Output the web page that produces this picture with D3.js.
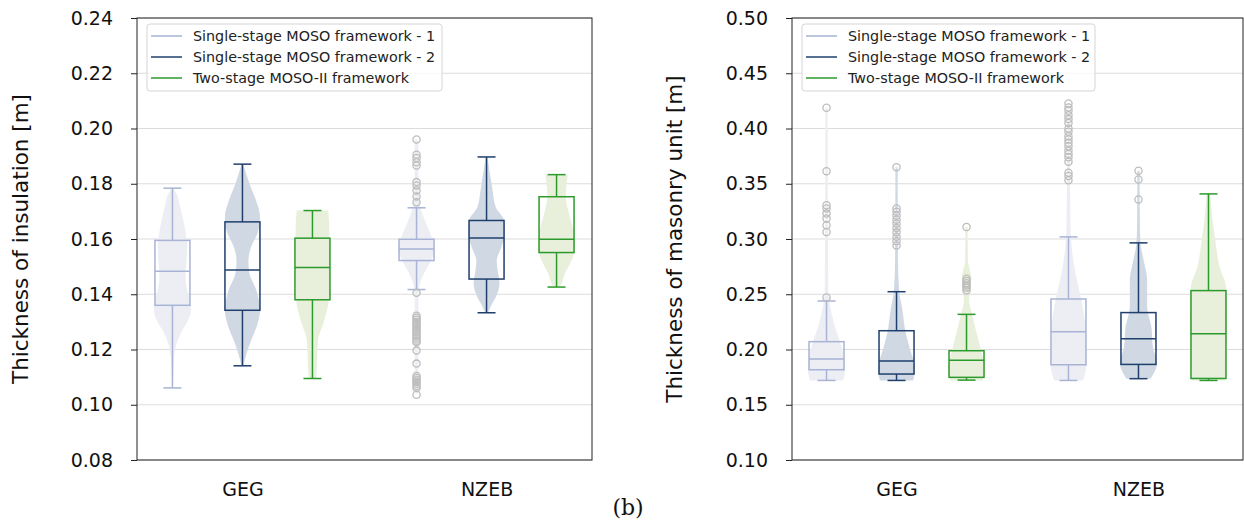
<!DOCTYPE html>
<html>
<head>
<meta charset="utf-8">
<script src="https://cdn.jsdelivr.net/npm/d3@7"></script>
<style>
  body { margin: 0; background: #fff; }
  svg text { font-family: "DejaVu Sans", sans-serif; }
</style>
</head>
<body>
<div id="chart"></div>
<script>
// categories and series
var categories = ["GEG", "NZEB"];
var seriesNames = ["Single-stage MOSO framework - 1",
                   "Single-stage MOSO framework - 2",
                   "Two-stage MOSO-II framework"];
var insulTicks = [0.08, 0.10, 0.12, 0.14, 0.16, 0.18, 0.20, 0.22, 0.24];
var masonTicks = [0.10, 0.15, 0.20, 0.25, 0.30, 0.35, 0.40, 0.45, 0.50];

// box stats: [whisker low, q1, median, q3, whisker high] for GEG, NZEB
var insulBox1 = [[0.1061, 0.1360, 0.1483, 0.1595, 0.1784], [0.1417, 0.1522, 0.1564, 0.1599, 0.1713]];
var insulBox2 = [[0.1141, 0.1342, 0.1488, 0.1662, 0.1871], [0.1333, 0.1455, 0.1604, 0.1667, 0.1897]];
var insulBox3 = [[0.1095, 0.1380, 0.1497, 0.1603, 0.1703], [0.1426, 0.1551, 0.1599, 0.1753, 0.1833]];
var masonBox1 = [[0.1720, 0.1817, 0.1913, 0.2071, 0.2439], [0.1720, 0.1862, 0.2161, 0.2457, 0.3019]];
var masonBox2 = [[0.1720, 0.1778, 0.1896, 0.2170, 0.2523], [0.1736, 0.1865, 0.2098, 0.2334, 0.2965]];
var masonBox3 = [[0.1723, 0.1748, 0.1902, 0.1989, 0.2318], [0.1720, 0.1738, 0.2143, 0.2533, 0.3408]];

// outliers
var insulOut1 = [[], [0.1960, 0.1905, 0.1893, 0.1878, 0.1866, 0.1806, 0.1794, 0.1776, 0.1754, 0.1733,
                      0.1405, 0.1322, 0.1315, 0.1308, 0.1300, 0.1292, 0.1285, 0.1277, 0.1270, 0.1262,
                      0.1255, 0.1247, 0.1240, 0.1232, 0.1226, 0.1196, 0.1149, 0.1104, 0.1097, 0.1090,
                      0.1083, 0.1076, 0.1068, 0.1061, 0.1036]];
var insulOut2 = [[], []];
var insulOut3 = [[], []];
var masonOut1 = [[0.4188, 0.3614, 0.3306, 0.3276, 0.3230, 0.3185, 0.3125, 0.3064, 0.2470],
                 [0.4227, 0.4190, 0.4160, 0.4120, 0.4085, 0.4050, 0.4000, 0.3970, 0.3930, 0.3900,
                  0.3870, 0.3840, 0.3800, 0.3770, 0.3740, 0.3700, 0.3600, 0.3570, 0.3532]];
var masonOut2 = [[0.3650, 0.3276, 0.3246, 0.3210, 0.3175, 0.3140, 0.3100, 0.3060, 0.3020, 0.2980, 0.2942],
                 [0.3617, 0.3539, 0.3357]];
var masonOut3 = [[0.3109, 0.2641, 0.2620, 0.2600, 0.2580, 0.2560, 0.2535], []];

// violin profiles: [value, relative width] for GEG, NZEB
var insulViolin1 = [
  [[0.1784,0.05],[0.176,0.25],[0.172,0.40],[0.168,0.55],[0.162,0.72],[0.158,0.80],[0.152,0.76],[0.146,0.70],
   [0.142,0.78],[0.138,0.95],[0.134,1.0],[0.130,0.80],[0.126,0.45],[0.122,0.22],[0.118,0.10],[0.112,0.05],[0.1061,0.02]],
  [[0.196,0.10],[0.185,0.10],[0.176,0.12],[0.171,0.22],[0.1643,0.60],[0.160,0.86],[0.1564,1.0],[0.152,0.77],
   [0.1475,0.40],[0.1425,0.14],[0.138,0.10],[0.120,0.10],[0.110,0.09],[0.104,0.07]]
];
var insulViolin2 = [
  [[0.1871,0.05],[0.180,0.38],[0.174,0.73],[0.168,0.95],[0.163,0.86],[0.157,0.46],[0.152,0.32],[0.1475,0.38],
   [0.1413,0.76],[0.134,0.95],[0.129,0.80],[0.123,0.45],[0.118,0.20],[0.1141,0.05]],
  [[0.1897,0.05],[0.1788,0.30],[0.1715,0.50],[0.1667,0.95],[0.162,1.0],[0.157,0.80],[0.152,0.55],[0.1486,0.60],
   [0.144,0.70],[0.139,0.50],[0.1355,0.22],[0.1333,0.08]]
];
var insulViolin3 = [
  [[0.1703,0.85],[0.166,0.90],[0.160,0.92],[0.1498,0.93],[0.1377,0.88],[0.1304,0.63],[0.1232,0.30],[0.116,0.25],[0.1095,0.20]],
  [[0.1833,0.60],[0.1752,0.50],[0.169,0.68],[0.162,0.95],[0.157,1.0],[0.152,0.80],[0.1475,0.45],[0.143,0.20],[0.1426,0.15]]
];
var masonViolin1 = [
  [[0.4188,0.06],[0.30,0.08],[0.25,0.10],[0.2384,0.20],[0.2237,0.40],[0.2083,0.70],[0.193,0.95],[0.181,1.0],[0.172,0.90]],
  [[0.4227,0.06],[0.32,0.10],[0.2898,0.19],[0.2656,0.42],[0.2445,0.70],[0.2146,0.95],[0.190,1.0],[0.172,0.78]]
];
var masonViolin2 = [
  [[0.365,0.06],[0.28,0.08],[0.2536,0.14],[0.2355,0.32],[0.2146,0.50],[0.199,0.75],[0.184,1.0],[0.172,0.90]],
  [[0.3617,0.06],[0.31,0.08],[0.2959,0.11],[0.2807,0.28],[0.2626,0.47],[0.2384,0.47],[0.2203,0.70],[0.2022,0.78],[0.1875,1.0],[0.1736,0.65]]
];
var masonViolin3 = [
  [[0.3109,0.06],[0.28,0.08],[0.265,0.25],[0.255,0.22],[0.2445,0.14],[0.2327,0.28],[0.2146,0.55],[0.199,0.78],[0.184,1.0],[0.172,0.85]],
  [[0.3408,0.10],[0.32,0.20],[0.2988,0.37],[0.2747,0.60],[0.2566,0.95],[0.2294,1.0],[0.199,0.95],[0.172,0.90]]
];

var lineColors = ["#a9b3d5", "#1f3f6d", "#2c9a2c"];
var fillColors = ["#eceef4", "#d0d9e3", "#e8f0dc"];

var W = 1244, H = 524;
var svg = d3.select("#chart").append("svg")
            .attr("width", W)
            .attr("height", H);

function drawPanel(opts) {
  var g = svg.append("g");
  var left = opts.left, right = opts.right, top = 18, bottom = 460;

  var y = d3.scaleLinear().domain(opts.domain).range([bottom, top]);
  var x = d3.scalePoint().domain(categories).range([left, right]).padding(0.432);
  var off = d3.scalePoint().domain(seriesNames).range([-70, 70]);
  var w = d3.scaleLinear().domain([0, 1]).range([0, 18.5]);

  // grid
  g.selectAll("line.grid").data(opts.ticks).enter().append("line")
   .attr("x1", left).attr("x2", right)
   .attr("y1", function(d){ return y(d); }).attr("y2", function(d){ return y(d); })
   .attr("stroke", "#dcdcdc").attr("stroke-width", 1);

  // y axis
  var yAxis = d3.axisLeft(y).tickValues(opts.ticks).tickFormat(d3.format(".2f")).tickSize(6).tickPadding(18);
  var ax = g.append("g").attr("transform", "translate(" + left + ",0)").call(yAxis);
  ax.select(".domain").remove();
  ax.selectAll("text").attr("font-size", "19px").attr("fill", "#111")
    .attr("font-family", "DejaVu Sans, sans-serif");
  ax.selectAll("line").attr("stroke", "#222");

  // x labels
  var xAxis = d3.axisBottom(x).tickSize(0).tickPadding(23);
  var bx = g.append("g").attr("transform", "translate(0," + bottom + ")").call(xAxis);
  bx.select(".domain").remove();
  bx.selectAll("text").attr("font-size", "19px").attr("fill", "#111")
    .attr("font-family", "DejaVu Sans, sans-serif");

  // y title
  g.append("text")
   .attr("transform", "translate(" + opts.titleX + "," + ((top + bottom) / 2) + ") rotate(-90)")
   .attr("text-anchor", "middle")
   .attr("dominant-baseline", "middle")
   .attr("font-size", "21.5px")
   .attr("fill", "#111")
   .text(opts.title);

  var area = d3.area()
    .curve(d3.curveMonotoneY)
    .y(function(d){ return y(d[0]); });

  // violins
  opts.violins.forEach(function(vs, si) {
    vs.forEach(function(prof, ci) {
      var cx = x(categories[ci]) + off(seriesNames[si]);
      area.x0(function(d){ return cx - w(d[1]); }).x1(function(d){ return cx + w(d[1]); });
      g.append("path")
       .attr("d", area(prof))
       .attr("fill", fillColors[si])
       .attr("stroke", "none");
    });
  });

  // boxes
  opts.boxes.forEach(function(bs, si) {
    bs.forEach(function(b, ci) {
      var cx = x(categories[ci]) + off(seriesNames[si]);
      var bw = 35, cap = 9;
      var col = lineColors[si];
      var bg = g.append("g").attr("stroke", col).attr("stroke-width", 1.5).attr("fill", "none");
      bg.append("line").attr("x1", cx).attr("x2", cx).attr("y1", y(b[0])).attr("y2", y(b[1]));
      bg.append("line").attr("x1", cx).attr("x2", cx).attr("y1", y(b[3])).attr("y2", y(b[4]));
      bg.append("line").attr("x1", cx - cap).attr("x2", cx + cap).attr("y1", y(b[0])).attr("y2", y(b[0]));
      bg.append("line").attr("x1", cx - cap).attr("x2", cx + cap).attr("y1", y(b[4])).attr("y2", y(b[4]));
      bg.append("rect").attr("x", cx - bw / 2).attr("width", bw)
        .attr("y", y(b[3])).attr("height", y(b[1]) - y(b[3]));
      bg.append("line").attr("x1", cx - bw / 2).attr("x2", cx + bw / 2).attr("y1", y(b[2])).attr("y2", y(b[2]));
    });
  });

  // outliers
  opts.outliers.forEach(function(os, si) {
    os.forEach(function(list, ci) {
      var cx = x(categories[ci]) + off(seriesNames[si]);
      g.selectAll(null).data(list).enter().append("circle")
       .attr("cx", cx).attr("cy", function(d){ return y(d); })
       .attr("r", 3.6)
       .attr("fill", "none")
       .attr("stroke", "#bdbdbd")
       .attr("stroke-width", 1.3);
    });
  });

  // frame
  g.append("rect").attr("x", left).attr("y", top)
   .attr("width", right - left).attr("height", bottom - top)
   .attr("fill", "none").attr("stroke", "#222").attr("stroke-width", 1);

  // legend
  var lg = g.append("g").attr("transform", "translate(" + (left + 10) + "," + 24 + ")");
  lg.append("rect").attr("x", 0).attr("y", 0).attr("width", opts.legendW).attr("height", 67)
    .attr("rx", 3).attr("fill", "#fff").attr("fill-opacity", 0.8)
    .attr("stroke", "#d5d5d5").attr("stroke-width", 1);
  seriesNames.forEach(function(s, i) {
    var ly = 12 + i * 21;
    lg.append("line").attr("x1", 4).attr("x2", 35).attr("y1", ly).attr("y2", ly)
      .attr("stroke", lineColors[i]).attr("stroke-width", 1.5);
    lg.append("text").attr("x", 46).attr("y", ly).attr("dominant-baseline", "central")
      .attr("font-size", "14.3px").attr("fill", "#222").text(s);
  });
}

drawPanel({
  left: 137, right: 592, domain: [0.08, 0.24], ticks: insulTicks,
  title: "Thickness of insulation [m]", titleX: 22, legendW: 295,
  violins: [insulViolin1, insulViolin2, insulViolin3],
  boxes: [insulBox1, insulBox2, insulBox3],
  outliers: [insulOut1, insulOut2, insulOut3]
});

drawPanel({
  left: 792, right: 1243, domain: [0.10, 0.50], ticks: masonTicks,
  title: "Thickness of masonry unit [m]", titleX: 676, legendW: 293,
  violins: [masonViolin1, masonViolin2, masonViolin3],
  boxes: [masonBox1, masonBox2, masonBox3],
  outliers: [masonOut1, masonOut2, masonOut3]
});

svg.append("text")
   .attr("x", 628).attr("y", 515)
   .attr("text-anchor", "middle")
   .attr("font-family", "DejaVu Serif, serif")
   .style("font-family", "DejaVu Serif, serif")
   .attr("font-size", "22px")
   .attr("fill", "#111")
   .text("(b)");
</script>
</body>
</html>
